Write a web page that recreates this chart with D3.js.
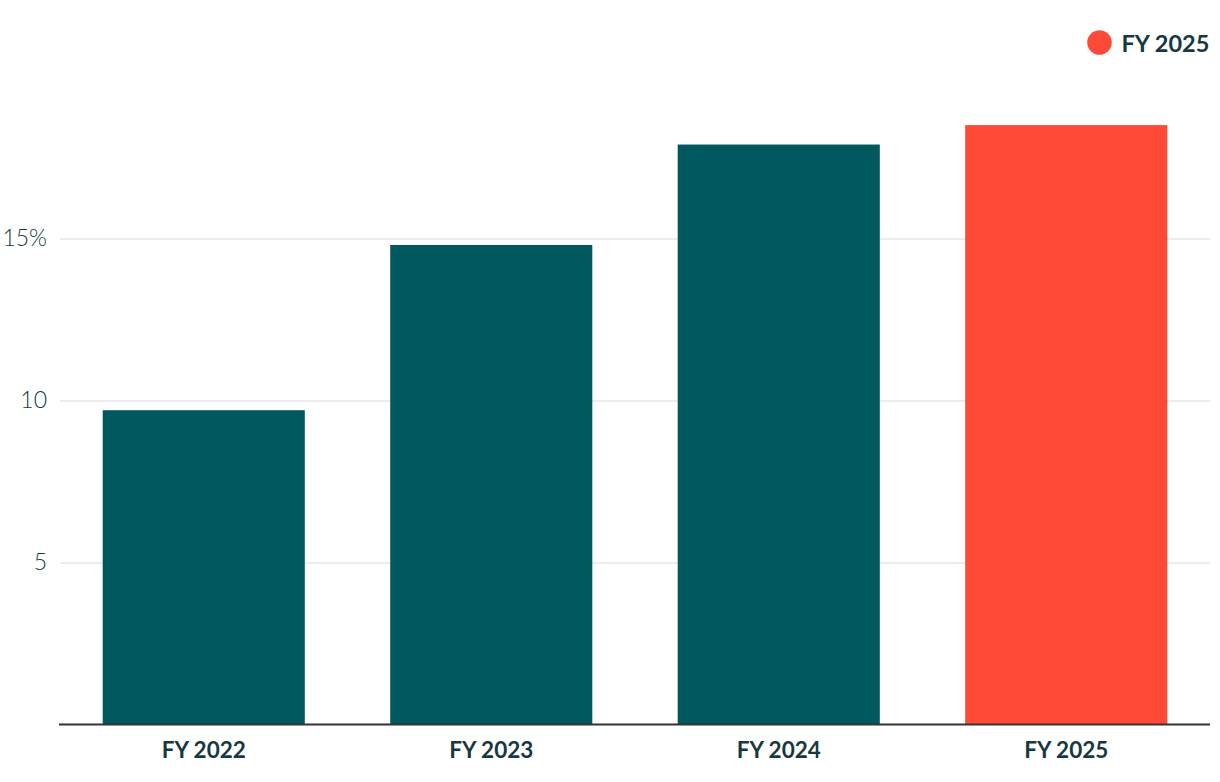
<!DOCTYPE html>
<html>
<head>
<meta charset="utf-8">
<script src="https://cdn.jsdelivr.net/npm/d3@7"></script>
<style>
  html, body { margin: 0; padding: 0; background: #ffffff; }
  svg { display: block; }
</style>
</head>
<body>
<svg id="chart" width="1220" height="782"></svg>
<script>
const categories = ["FY 2022", "FY 2023", "FY 2024", "FY 2025"];
const values = [9.7, 14.8, 17.9, 18.5];
const highlight = ["FY 2025"];
const yTicks = [5, 10, 15];
const yTickLabels = ["5", "10", "15%"];
const legendLabels = ["FY 2025"];

const W = 1220, H = 782;
const margin = { left: 60, right: 10, top: 76.5, bottom: 57.5 };
const svg = d3.select("#chart");

const x = d3.scaleBand()
  .domain(categories)
  .range([margin.left, W - margin.right])
  .paddingInner(0.297)
  .paddingOuter(0.1485);

const y = d3.scaleLinear()
  .domain([0, 20])
  .range([H - margin.bottom, margin.top]);

const textColor = "#163840";
const teal = "#02585F";
const red = "#FF4A37";

// gridlines
const grid = svg.append("g")
  .attr("transform", `translate(${margin.left},0)`)
  .call(d3.axisLeft(y).tickValues(yTicks).tickSize(-(W - margin.left - margin.right)).tickFormat(""));
grid.select(".domain").remove();
grid.selectAll(".tick line").attr("stroke", "#e6e6e6").attr("stroke-width", 1.5);

// y tick labels
const yAxis = svg.append("g")
  .attr("transform", `translate(${margin.left},0)`)
  .call(d3.axisLeft(y).tickValues(yTicks).tickSize(0).tickPadding(13)
    .tickFormat((d, i) => yTickLabels[i]));
yAxis.select(".domain").remove();
yAxis.selectAll("text")
  .attr("font-family", "Lato, 'Open Sans', sans-serif")
  .attr("font-weight", 300)
  .attr("font-size", 23)
  .attr("fill", textColor);

// bars
svg.append("g").selectAll("rect")
  .data(categories)
  .join("rect")
  .attr("x", d => x(d))
  .attr("width", x.bandwidth())
  .attr("y", (d, i) => y(values[i]))
  .attr("height", (d, i) => y(0) - y(values[i]))
  .attr("fill", d => highlight.includes(d) ? red : teal);

// x axis
const xAxis = svg.append("g")
  .attr("transform", `translate(0,${y(0)})`)
  .call(d3.axisBottom(x).tickSize(0).tickPadding(18));
xAxis.select(".domain")
  .attr("stroke", "#333333")
  .attr("stroke-width", 2)
  .attr("d", `M${margin.left - 1},0H${W - margin.right}`);
xAxis.selectAll("text")
  .attr("font-family", "Lato, 'Open Sans', sans-serif")
  .attr("font-weight", 700)
  .attr("font-size", 22.5)
  .attr("fill", textColor);

// legend
const legend = svg.append("g");
legendLabels.forEach((lab, i) => {
  const g = legend.append("g").attr("transform", `translate(1099.5,42.5)`);
  g.append("circle").attr("r", 12.3).attr("fill", red);
  g.append("text")
    .attr("x", 22)
    .attr("y", 9.5)
    .attr("font-family", "Lato, 'Open Sans', sans-serif")
    .attr("font-weight", 700)
    .attr("font-size", 23.5)
    .attr("fill", textColor)
    .text(lab);
});
</script>
</body>
</html>
